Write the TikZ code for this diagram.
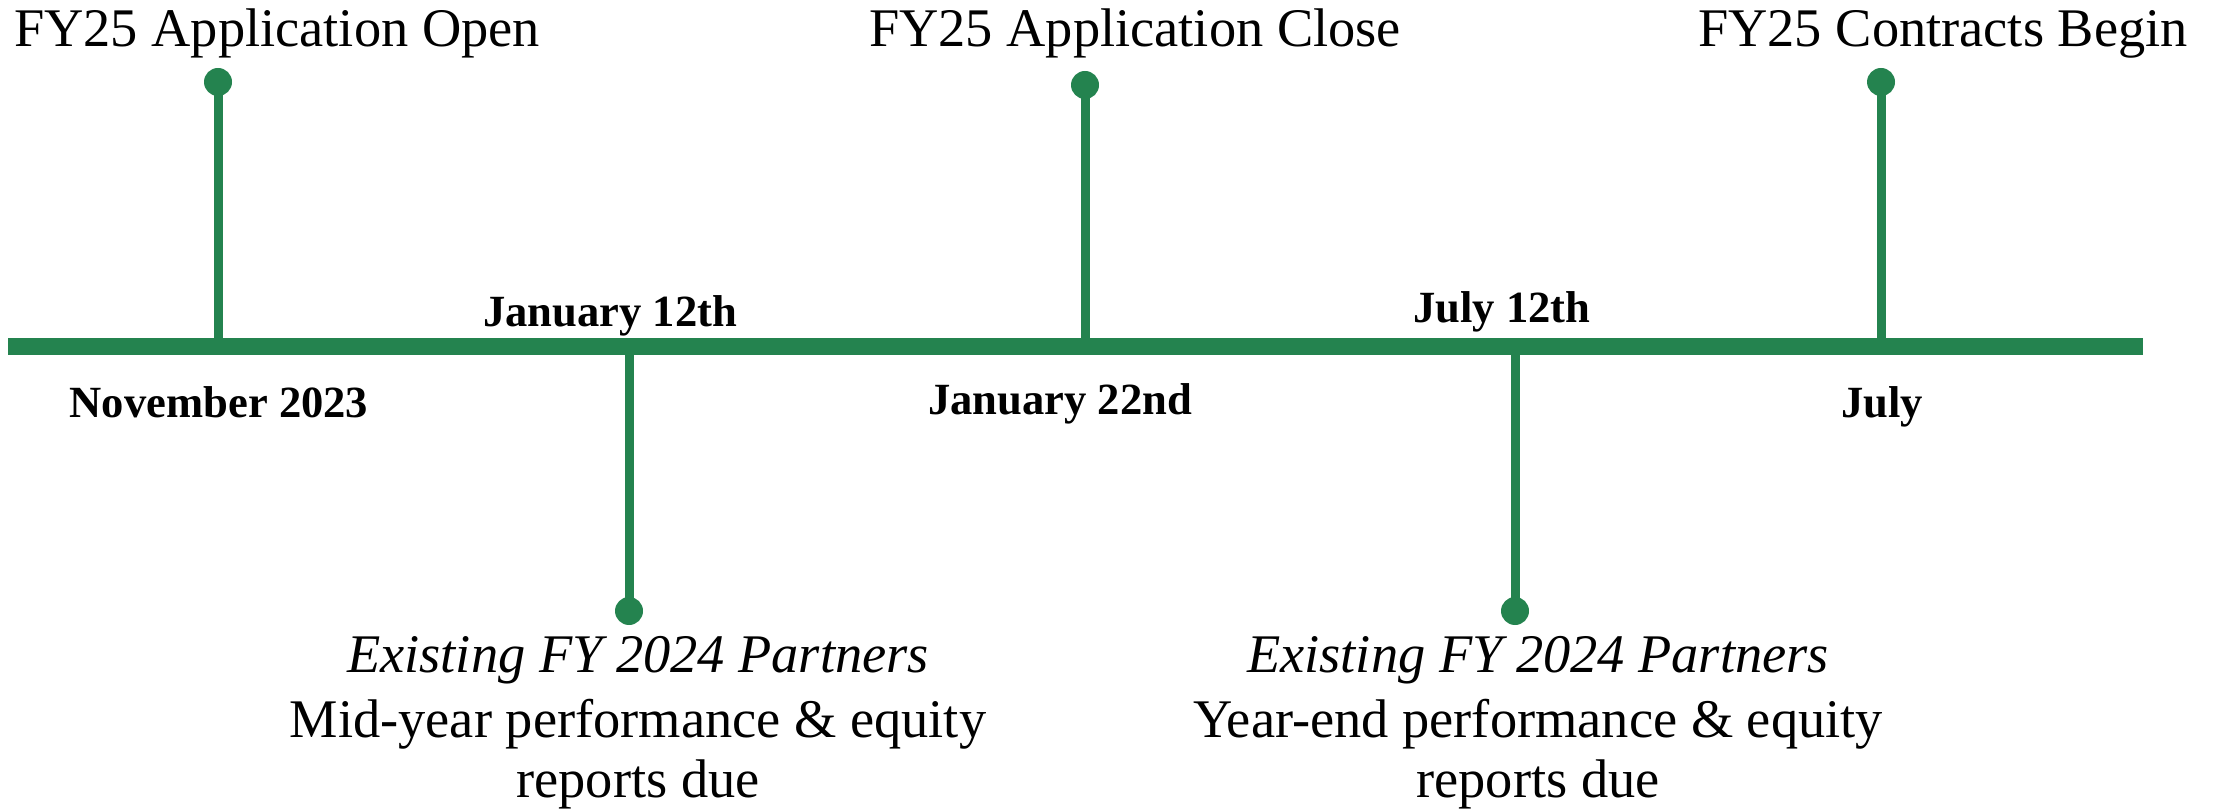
\documentclass[tikz,border=0pt]{standalone}
\usepackage{fontspec}
\setmainfont{Liberation Serif}
\definecolor{tlgreen}{RGB}{36,131,79}
\begin{document}
\begin{tikzpicture}[x=0.5pt,y=-0.5pt,
  mainline/.style={draw=tlgreen,line width=8.5pt},
  stem/.style={draw=tlgreen,line width=4.5pt},
  dotmark/.style={circle,fill=tlgreen,inner sep=0pt,minimum size=14pt},
  evtext/.style={anchor=base,inner sep=0pt,font=\fontsize{27.2}{32}\selectfont},
  evital/.style={evtext,font=\fontsize{27.2}{32}\selectfont\itshape},
  datetext/.style={anchor=base,inner sep=0pt,font=\fontsize{22.3}{26}\selectfont\bfseries}]
\useasboundingbox (0,0) rectangle (2216,812);
% main line
\coordinate (L) at (8,347);
\coordinate (R) at (2143,347);
\draw[mainline] (L) -- (R);
% stem base points on the line
\coordinate (b1) at (218,347);
\coordinate (b2) at (629,347);
\coordinate (b3) at (1085,347);
\coordinate (b4) at (1515,347);
\coordinate (b5) at (1881,347);
% dots
\node[dotmark] (d1) at (218,82) {};
\node[dotmark] (d2) at (629,611) {};
\node[dotmark] (d3) at (1085,85) {};
\node[dotmark] (d4) at (1515,611) {};
\node[dotmark] (d5) at (1881,82) {};
% stems
\draw[stem] (d1.center) -- (b1);
\draw[stem] (d2.center) -- (b2);
\draw[stem] (d3.center) -- (b3);
\draw[stem] (d4.center) -- (b4);
\draw[stem] (d5.center) -- (b5);
% top labels
\node[evtext] (t1) at (277,47) {FY25 Application Open};
\node[evtext] (t3) at (1135,47) {FY25 Application Close};
\node[evtext] (t5) at (1943,47) {FY25 Contracts Begin};
% dates
\node[datetext] (m1) at (219,418) {November 2023};
\node[datetext] (m2) at (610,327) {January 12th};
\node[datetext] (m3) at (1060,415) {January 22nd};
\node[datetext] (m4) at (1502,323) {July 12th};
\node[datetext] (m5) at (1882,417) {July};
% bottom blocks
\node[evital] (p2a) at (638,672) {Existing FY 2024 Partners};
\node[evtext] (p2b) at (638,737) {Mid-year performance \& equity};
\node[evtext] (p2c) at (638,797) {reports due};
\node[evital] (p4a) at (1538,672) {Existing FY 2024 Partners};
\node[evtext] (p4b) at (1538,737) {Year-end performance \& equity};
\node[evtext] (p4c) at (1538,797) {reports due};
\end{tikzpicture}
\end{document}
